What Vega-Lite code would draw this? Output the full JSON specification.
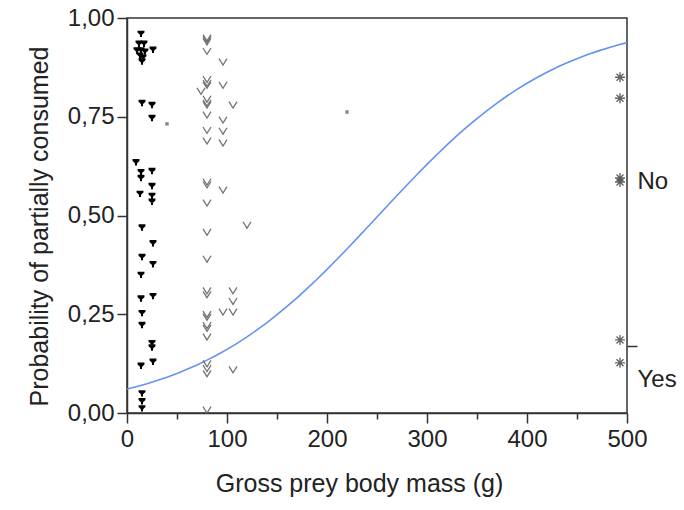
{
  "$schema": "https://vega.github.io/schema/vega-lite/v6.json",
  "width": 500,
  "height": 395,
  "autosize": "none",
  "padding": {"left": 127, "top": 18, "right": 57, "bottom": 97},
  "background": "white",
  "datasets": {
    "curve": [
      {"mass": 0, "p": 0.0606}, {"mass": 10, "p": 0.0672}, {"mass": 20, "p": 0.0743}, {"mass": 30, "p": 0.0822},
      {"mass": 40, "p": 0.0908}, {"mass": 50, "p": 0.1002}, {"mass": 60, "p": 0.1105}, {"mass": 70, "p": 0.1217},
      {"mass": 80, "p": 0.1338}, {"mass": 90, "p": 0.1469}, {"mass": 100, "p": 0.1611}, {"mass": 110, "p": 0.1764},
      {"mass": 120, "p": 0.1928}, {"mass": 130, "p": 0.2103}, {"mass": 140, "p": 0.229}, {"mass": 150, "p": 0.2488},
      {"mass": 160, "p": 0.2697}, {"mass": 170, "p": 0.2917}, {"mass": 180, "p": 0.3148}, {"mass": 190, "p": 0.3387},
      {"mass": 200, "p": 0.3635}, {"mass": 210, "p": 0.3891}, {"mass": 220, "p": 0.4153}, {"mass": 230, "p": 0.4421},
      {"mass": 240, "p": 0.469}, {"mass": 250, "p": 0.4963}, {"mass": 260, "p": 0.5235}, {"mass": 270, "p": 0.5506},
      {"mass": 280, "p": 0.5774}, {"mass": 290, "p": 0.6037}, {"mass": 300, "p": 0.6295}, {"mass": 310, "p": 0.6545},
      {"mass": 320, "p": 0.6788}, {"mass": 330, "p": 0.702}, {"mass": 340, "p": 0.7243}, {"mass": 350, "p": 0.7455},
      {"mass": 360, "p": 0.7657}, {"mass": 370, "p": 0.7847}, {"mass": 380, "p": 0.8025}, {"mass": 390, "p": 0.8192},
      {"mass": 400, "p": 0.8348}, {"mass": 410, "p": 0.8493}, {"mass": 420, "p": 0.8627}, {"mass": 430, "p": 0.8751},
      {"mass": 440, "p": 0.8865}, {"mass": 450, "p": 0.8971}, {"mass": 460, "p": 0.9067}, {"mass": 470, "p": 0.9155},
      {"mass": 480, "p": 0.9236}, {"mass": 490, "p": 0.9309}, {"mass": 500, "p": 0.9376}
    ],
    "points": [
      {"type": "tri", "mass": 14, "p": 0.96}, {"type": "tri", "mass": 12, "p": 0.935}, {"type": "tri", "mass": 17, "p": 0.935},
      {"type": "tri", "mass": 10, "p": 0.918}, {"type": "tri", "mass": 14, "p": 0.918}, {"type": "tri", "mass": 18, "p": 0.915},
      {"type": "tri", "mass": 13, "p": 0.905}, {"type": "tri", "mass": 16, "p": 0.9}, {"type": "tri", "mass": 15, "p": 0.89},
      {"type": "tri", "mass": 26, "p": 0.92},
      {"type": "tri", "mass": 15, "p": 0.785}, {"type": "tri", "mass": 25, "p": 0.78}, {"type": "tri", "mass": 25, "p": 0.747},
      {"type": "tri", "mass": 9, "p": 0.635}, {"type": "tri", "mass": 14, "p": 0.61}, {"type": "tri", "mass": 14, "p": 0.595},
      {"type": "tri", "mass": 25, "p": 0.613}, {"type": "tri", "mass": 25, "p": 0.575}, {"type": "tri", "mass": 13, "p": 0.555},
      {"type": "tri", "mass": 25, "p": 0.55}, {"type": "tri", "mass": 25, "p": 0.535},
      {"type": "tri", "mass": 15, "p": 0.47}, {"type": "tri", "mass": 26, "p": 0.43}, {"type": "tri", "mass": 15, "p": 0.395},
      {"type": "tri", "mass": 26, "p": 0.377}, {"type": "tri", "mass": 14, "p": 0.35}, {"type": "tri", "mass": 14, "p": 0.29},
      {"type": "tri", "mass": 26, "p": 0.296}, {"type": "tri", "mass": 15, "p": 0.253}, {"type": "tri", "mass": 15, "p": 0.223},
      {"type": "tri", "mass": 25, "p": 0.177}, {"type": "tri", "mass": 25, "p": 0.166}, {"type": "tri", "mass": 14, "p": 0.12},
      {"type": "tri", "mass": 26, "p": 0.13}, {"type": "tri", "mass": 15, "p": 0.05}, {"type": "tri", "mass": 15, "p": 0.03},
      {"type": "tri", "mass": 15, "p": 0.012},
      {"type": "vee", "mass": 80, "p": 0.95}, {"type": "vee", "mass": 80, "p": 0.945}, {"type": "vee", "mass": 80, "p": 0.94},
      {"type": "vee", "mass": 80, "p": 0.916}, {"type": "vee", "mass": 96, "p": 0.889}, {"type": "vee", "mass": 80, "p": 0.845},
      {"type": "vee", "mass": 80, "p": 0.835}, {"type": "vee", "mass": 80, "p": 0.83}, {"type": "vee", "mass": 96, "p": 0.83},
      {"type": "vee", "mass": 74, "p": 0.815}, {"type": "vee", "mass": 80, "p": 0.795}, {"type": "vee", "mass": 80, "p": 0.785},
      {"type": "vee", "mass": 80, "p": 0.78}, {"type": "vee", "mass": 106, "p": 0.78}, {"type": "vee", "mass": 80, "p": 0.755},
      {"type": "vee", "mass": 96, "p": 0.742}, {"type": "vee", "mass": 80, "p": 0.716}, {"type": "vee", "mass": 96, "p": 0.714},
      {"type": "vee", "mass": 80, "p": 0.689}, {"type": "vee", "mass": 96, "p": 0.684}, {"type": "vee", "mass": 80, "p": 0.585},
      {"type": "vee", "mass": 80, "p": 0.578}, {"type": "vee", "mass": 96, "p": 0.565}, {"type": "vee", "mass": 80, "p": 0.532},
      {"type": "vee", "mass": 80, "p": 0.458}, {"type": "vee", "mass": 120, "p": 0.476}, {"type": "vee", "mass": 80, "p": 0.39},
      {"type": "vee", "mass": 80, "p": 0.31}, {"type": "vee", "mass": 80, "p": 0.3}, {"type": "vee", "mass": 106, "p": 0.31},
      {"type": "vee", "mass": 106, "p": 0.283}, {"type": "vee", "mass": 96, "p": 0.256}, {"type": "vee", "mass": 106, "p": 0.256},
      {"type": "vee", "mass": 80, "p": 0.25}, {"type": "vee", "mass": 80, "p": 0.243}, {"type": "vee", "mass": 80, "p": 0.222},
      {"type": "vee", "mass": 80, "p": 0.215}, {"type": "vee", "mass": 80, "p": 0.193}, {"type": "vee", "mass": 80, "p": 0.125},
      {"type": "vee", "mass": 80, "p": 0.113}, {"type": "vee", "mass": 80, "p": 0.1}, {"type": "vee", "mass": 106, "p": 0.11},
      {"type": "vee", "mass": 80, "p": 0.008},
      {"type": "dot", "mass": 40, "p": 0.732}, {"type": "dot", "mass": 220, "p": 0.762},
      {"type": "star", "mass": 493, "p": 0.85}, {"type": "star", "mass": 493, "p": 0.797}, {"type": "star", "mass": 493, "p": 0.595},
      {"type": "star", "mass": 493, "p": 0.585}, {"type": "star", "mass": 493, "p": 0.185}, {"type": "star", "mass": 493, "p": 0.127}
    ]
  },
  "layer": [
    {
      "data": {"name": "curve"},
      "mark": {"type": "line", "color": "#6393f2", "strokeWidth": 1.6},
      "encoding": {
        "x": {
          "field": "mass", "type": "quantitative",
          "scale": {"domain": [0, 500], "nice": false, "zero": false},
          "axis": {
            "title": "Gross prey body mass (g)",
            "values": [0, 50, 100, 150, 200, 250, 300, 350, 400, 450, 500],
            "tickSize": {"condition": {"test": "datum.value % 100 === 0", "value": 10}, "value": 6},
            "labelExpr": "datum.value % 100 === 0 ? datum.label : ''",
            "labelFlush": false,
            "labelOverlap": false,
            "labelPadding": 4,
            "titlePadding": 20,
            "titleX": 232,
            "titleAlign": "center"
          }
        },
        "y": {
          "field": "p", "type": "quantitative",
          "scale": {"domain": [0, 1], "nice": false, "zero": false},
          "axis": {
            "orient": "left",
            "title": "Probability of partially consumed",
            "values": [0, 0.25, 0.5, 0.75, 1],
            "tickSize": 10,
            "labelExpr": "replace(format(datum.value, '.2f'), '.', ',')",
            "labelFlush": false,
            "labelOverlap": false,
            "labelPadding": 3,
            "titlePadding": 15,
            "titleY": 208,
            "titleAlign": "center"
          }
        }
      }
    },
    {
      "data": {"name": "points"},
      "transform": [{"filter": "datum.type === 'tri'"}],
      "mark": {"type": "point", "shape": "M-1,-0.9H1V-0.35L0.3,0.3V0.95H-0.3V0.3L-1,-0.35Z", "filled": true, "color": "#000", "size": 48, "opacity": 1},
      "encoding": {
        "x": {"field": "mass", "type": "quantitative"},
        "y": {"field": "p", "type": "quantitative", "scale": {"domain": [0, 1], "nice": false, "zero": false}, "axis": null}
      }
    },
    {
      "data": {"name": "points"},
      "transform": [{"filter": "datum.type === 'vee'"}],
      "mark": {"type": "point", "shape": "M-1,-0.8L0,0.8L1,-0.8", "filled": false, "color": "#666", "strokeWidth": 1.3, "size": 64, "opacity": 0.9},
      "encoding": {
        "x": {"field": "mass", "type": "quantitative"},
        "y": {"field": "p", "type": "quantitative", "scale": {"domain": [0, 1], "nice": false, "zero": false}, "axis": null}
      }
    },
    {
      "data": {"name": "points"},
      "transform": [{"filter": "datum.type === 'dot'"}],
      "mark": {"type": "square", "filled": true, "color": "#888", "size": 12, "opacity": 1},
      "encoding": {
        "x": {"field": "mass", "type": "quantitative"},
        "y": {"field": "p", "type": "quantitative", "scale": {"domain": [0, 1], "nice": false, "zero": false}, "axis": null}
      }
    },
    {
      "data": {"name": "points"},
      "transform": [{"filter": "datum.type === 'star'"}],
      "mark": {"type": "point", "shape": "M-1,0H1M0,-1V1M-0.7,-0.7L0.7,0.7M-0.7,0.7L0.7,-0.7", "filled": false, "color": "#555", "strokeWidth": 1.4, "size": 100, "opacity": 0.9},
      "encoding": {
        "x": {"field": "mass", "type": "quantitative"},
        "y": {
          "field": "p", "type": "quantitative",
          "scale": {"domain": [0, 1], "nice": false, "zero": false},
          "axis": {
            "orient": "right",
            "title": null,
            "values": [0.085, 0.17, 0.585],
            "tickSize": 10,
            "tickOpacity": {"condition": {"test": "datum.value === 0.17", "value": 1}, "value": 0},
            "labelExpr": "datum.value === 0.585 ? 'No' : (datum.value === 0.085 ? 'Yes' : '')",
            "labelFlush": false,
            "labelOverlap": false,
            "labelPadding": 0,
            "domain": false
          }
        }
      }
    }
  ],
  "resolve": {"scale": {"y": "independent"}},
  "config": {
    "font": "Liberation Sans",
    "view": {"stroke": "#333", "strokeWidth": 1.5},
    "axis": {
      "grid": false,
      "labelFont": "Liberation Sans",
      "titleFont": "Liberation Sans",
      "labelFontSize": 24,
      "titleFontSize": 25,
      "titleFontWeight": "normal",
      "labelColor": "#222",
      "titleColor": "#222",
      "domainColor": "#333",
      "domainWidth": 1.5,
      "tickColor": "#333",
      "tickWidth": 1.5
    }
  }
}
